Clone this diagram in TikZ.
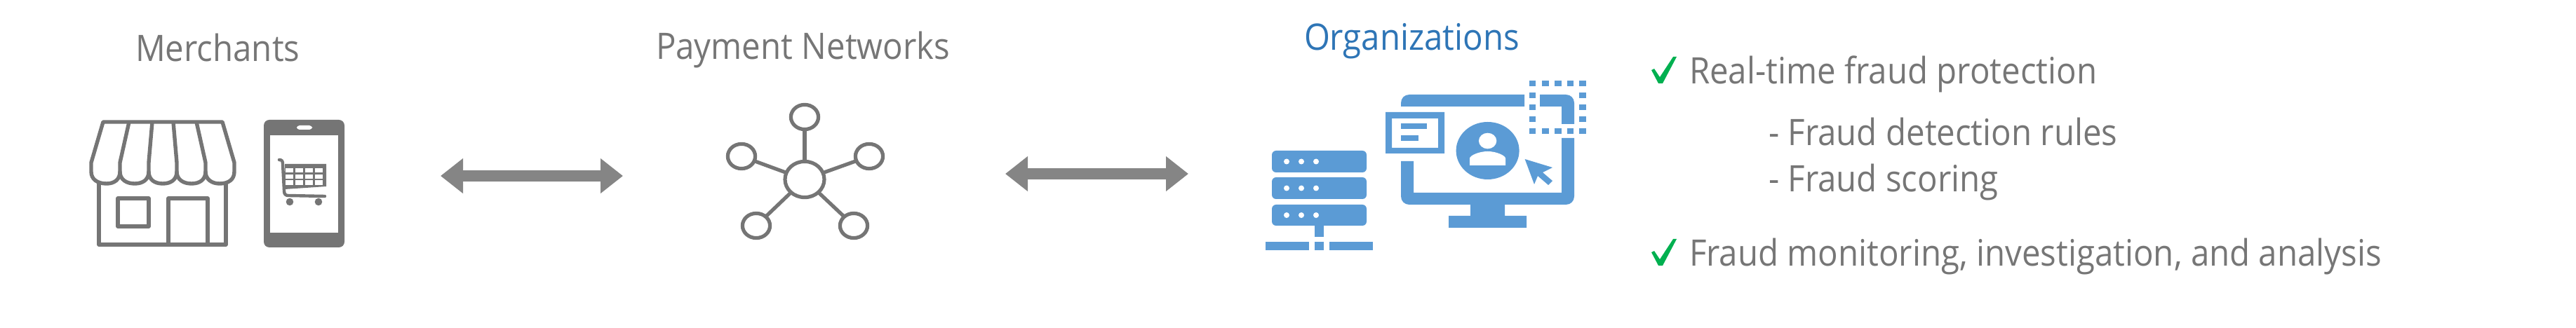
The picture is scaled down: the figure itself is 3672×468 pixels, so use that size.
\documentclass[tikz,border=0pt]{standalone}
\usepackage{fontspec}
\usetikzlibrary{arrows.meta,shapes.geometric}
\setmainfont{Open Sans}[FakeStretch=0.912]
\definecolor{txt}{HTML}{767676}
\definecolor{ico}{HTML}{757575}
\definecolor{arr}{HTML}{858585}
\definecolor{blu}{HTML}{5B9BD5}
\definecolor{blt}{HTML}{2E75B6}
\definecolor{grn}{HTML}{00B050}
\tikzset{
  lbl/.style={anchor=base west,inner sep=0pt,outer sep=0pt,text=txt,font=\fontsize{13pt}{15pt}\selectfont},
  sketch/.style={draw=ico,line width=1.35pt,line join=round,fill=none},
  dbl/.style={draw=arr,line width=4pt,{Triangle[length=8pt,width=12pt]}-{Triangle[length=8pt,width=12pt]}},
  netnode/.style={ellipse,draw=ico,line width=1.3pt,inner sep=0pt,outer sep=0pt,minimum width=9.8pt,minimum height=8.8pt},
  hubnode/.style={netnode,minimum width=14pt,minimum height=12.8pt},
  spoke/.style={draw=ico,line width=1.3pt},
  bfill/.style={fill=blu,draw=none},
  wfill/.style={fill=white,draw=none}
}
\begin{document}
\begin{tikzpicture}[x=0.25pt,y=-0.25pt]
\useasboundingbox (0,0) rectangle (3672,468);
% labels
\node[lbl] (merch) at (193,88) {Merchants};
\node[lbl] (paynet) at (935,85) {Payment Networks};
\node[lbl,text=blt] (orgs) at (1859,72) {Organizations};
\node[lbl] (l1) at (2408,120) {Real-time fraud protection};
\node[lbl] (l2) at (2521,208) {- Fraud detection rules};
\node[lbl] (l3) at (2521,274) {- Fraud scoring};
\node[lbl] (l4) at (2408,380) {Fraud monitoring, investigation, and analysis};
% checks
\foreach \yy in {0,260}{
\fill[grn,shift={(0,\yy)}] (2354,100) -- (2358,98) -- (2366,110) -- (2385,81) -- (2390,81) -- (2370,119) -- (2364,119) -- cycle;
}
% store
\draw[sketch] (147,174) -- (317,174) -- (334,232) -- (334,245)
  .. controls (334,256) and (326,262) .. (313,262)
  .. controls (302,262) and (293,256) .. (293,245)
  .. controls (293,256) and (285,262) .. (273,262)
  .. controls (261,262) and (252,256) .. (252,245)
  .. controls (252,256) and (244,262) .. (232,262)
  .. controls (220,262) and (212,256) .. (212,245)
  .. controls (212,256) and (204,262) .. (192,262)
  .. controls (180,262) and (171,256) .. (171,245)
  .. controls (171,256) and (163,262) .. (152,262)
  .. controls (139,262) and (130,256) .. (130,245) -- (130,232) -- cycle;
\draw[sketch] (184,174) -- (171,232) -- (171,245);
\draw[sketch] (217,174) -- (212,232) -- (212,245);
\draw[sketch] (247,174) -- (252,232) -- (252,245);
\draw[sketch] (280,174) -- (293,232) -- (293,245);
\draw[sketch] (141,262) -- (141,349) -- (322,349) -- (322,262);
\draw[sketch] (168,283) rectangle (212,323);
\draw[sketch] (240,349) -- (240,283) -- (296,283) -- (296,349);
% tablet
\fill[ico,rounded corners=2pt] (376,171) rectangle (491,353);
\fill[white] (385,193) rectangle (482,332);
\fill[white,rounded corners=1pt] (423,179) rectangle (445,185);
% cart
\draw[ico,line width=1.1pt,line cap=round,line join=round] (398,228) .. controls (402,228) and (403,230) .. (403,234) -- (405,272) .. controls (405,277) and (407,279) .. (411,279) -- (463,280);
\fill[ico] (406,234) -- (465,234) -- (465,266) -- (406,270) -- cycle;
\foreach \a/\b in {407/417.5,421/432,435/446,449/460}{
  \fill[white] (\a,240) rectangle (\b,246.5);
  \fill[white] (\a,249) rectangle (\b,255);
  \fill[white] (\a,257.5) rectangle (\b,264.5);
}
\fill[ico] (413,288) circle[radius=5.3];
\fill[ico] (454,288) circle[radius=5.3];
% arrows
\coordinate (a1l) at (628,251);
\coordinate (a1r) at (888,251);
\coordinate (a2l) at (1433,248);
\coordinate (a2r) at (1694,248);
\draw[dbl] (a1l) -- (a1r);
\draw[dbl] (a2l) -- (a2r);
% network
\node[hubnode] (hub) at (1147,256) {};
\node[netnode] (n1) at (1147,167) {};
\node[netnode] (n2) at (1057,223) {};
\node[netnode] (n3) at (1239,223) {};
\node[netnode] (n4) at (1078,322) {};
\node[netnode] (n5) at (1217,322) {};
\draw[spoke] (hub) -- (n1);
\draw[spoke] (hub) -- (n2);
\draw[spoke] (hub) -- (n3);
\draw[spoke] (hub) -- (n4);
\draw[spoke] (hub) -- (n5);
% server
\foreach \t/\b/\c in {215/246/230.5,253/284/268.5,292/322/307}{
  \fill[blu,rounded corners=1.5pt] (1813,\t) rectangle (1948,\b);
  \foreach \d in {1834,1855,1876}{\fill[white] (\d,\c) circle[radius=4];}
}
\fill[blu] (1874,322) rectangle (1887,338);
\fill[blu] (1804,345) rectangle (1866,357);
\fill[blu] (1874,345) rectangle (1887,357);
\fill[blu] (1895,345) rectangle (1957,357);
% monitor
\fill[bfill] (1997,152) -- (1997,147) .. controls (1997,140) and (2002,135) .. (2009,135) -- (2173,135) -- (2173,152) -- cycle;
\fill[bfill] (2195,135) -- (2232,135) .. controls (2239,135) and (2244,140) .. (2244,147) -- (2244,177) -- (2226,177) -- (2226,152) -- (2195,152) -- cycle;
\fill[bfill] (1997,230) -- (2015,230) -- (2015,275) -- (2226,275) -- (2226,197) -- (2244,197) -- (2244,280) .. controls (2244,287) and (2239,292) .. (2232,292) -- (2145,292) -- (2145,308) -- (2176,308) -- (2176,325) -- (2065,325) -- (2065,308) -- (2096,308) -- (2096,292) -- (2009,292) .. controls (2002,292) and (1997,287) .. (1997,280) -- cycle;
% dotted square
\foreach \a in {2179.5,2198,2216,2233.5,2251}{
  \fill[blu] (\a,115) rectangle ++(9.5,8.5);
  \fill[blu] (\a,183) rectangle ++(9.5,8.5);
}
\foreach \b in {132,149,166}{
  \fill[blu] (2179.5,\b) rectangle ++(9.5,8.5);
  \fill[blu] (2251,\b) rectangle ++(9.5,8.5);
}
% window
\fill[blu,even odd rule] (1975,160) rectangle (2059,219) (1984,169) rectangle (2050,211);
\fill[blu] (1997,176) rectangle (2034,184);
\fill[blu] (1997,193) rectangle (2022,201);
% user
\fill[blu] (2120.6,215) ellipse[x radius=45,y radius=41];
\fill[wfill] (2120.6,201) ellipse[x radius=12.7,y radius=11.3];
\fill[wfill] (2095,236) -- (2095,226) .. controls (2095,222) and (2108,216) .. (2120.6,216) .. controls (2133,216) and (2146,222) .. (2146,226) -- (2146,236) -- cycle;
% cursor
\fill[blu] (2173.6,227) -- (2213,239) -- (2199,246) -- (2213,258) -- (2207,264) -- (2192,251) -- (2187,263) -- cycle;
\end{tikzpicture}
\end{document}
